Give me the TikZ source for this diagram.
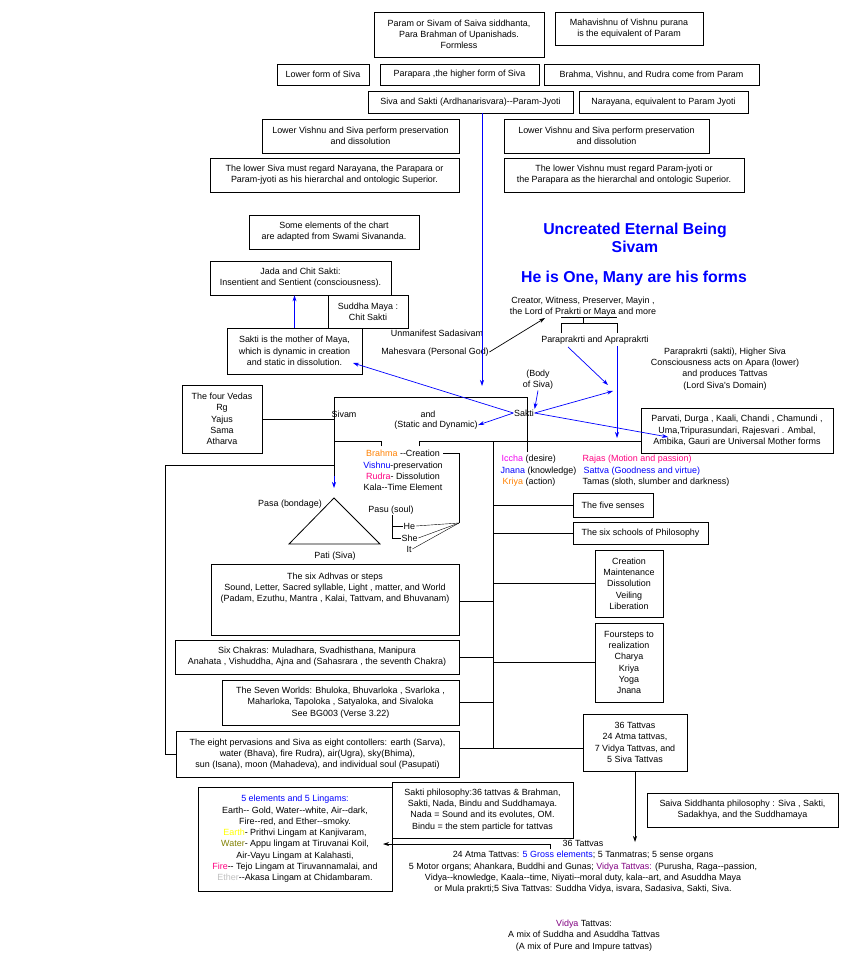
\documentclass[tikz,border=0pt]{standalone}
\usepackage{fontspec}
\setmainfont{Liberation Sans}[Ligatures=TeXOff]
\usetikzlibrary{arrows.meta,calc,positioning}
\definecolor{chartblue}{RGB}{0,0,255}
\definecolor{chartmag}{RGB}{255,0,128}
\definecolor{chartpink}{RGB}{240,0,240}
\definecolor{chartorange}{RGB}{255,128,0}
\definecolor{chartyellow}{RGB}{255,255,0}
\definecolor{chartolive}{RGB}{128,128,0}
\definecolor{chartgray}{RGB}{192,192,192}
\definecolor{chartpurple}{RGB}{128,0,128}
\newcommand{\chartfont}{\fontsize{8.95}{11.3}\selectfont}
\tikzset{
  box/.style    = {draw, line width=0.8pt, align=center, inner sep=1pt, font=\chartfont},
  sz/.style 2 args = {minimum width=#1pt, minimum height=#2pt},
  lbl/.style    = {align=center, inner sep=0.5pt, font=\chartfont},
  link/.style   = {line width=0.8pt},
  barrow/.style = {-{Stealth[length=6pt,width=4pt]}, chartblue, line width=0.7pt},
  karrow/.style = {-{Stealth[length=6pt,width=4pt]}, line width=0.7pt},
  headline/.style = {chartblue, align=center, inner sep=0pt,
                  font=\bfseries\fontsize{15.8}{18}\selectfont},
}

\begin{document}
\begin{tikzpicture}[x=1pt,y=-1pt]
  \useasboundingbox (0,0) rectangle (850,963);

  % top of the chart
  \node[box, sz={170}{45}]  (param)    at (459,34.5)  {Param or Sivam of Saiva siddhanta,\\ Para Brahman of Upanishads.\\ Formless};
  \node[box, sz={148}{33}]  (mahav)    at (629,28.5)  {Mahavishnu of Vishnu purana\\ is the equivalent of Param};
  \node[box, sz={92}{21}]   (lowform)  at (323,74.5)  {Lower form of Siva};
  \node[box, sz={159}{21}]  (parapara) at (459.5,74.5){Parapara ,the higher form of Siva};
  \node[box, sz={215}{21}]  (bvr)      at (651.5,74.5){Brahma, Vishnu, and Rudra come from Param};
  \node[box, sz={205}{22}]  (ardha)    at (470.5,102) {Siva and  Sakti (Ardhanarisvara)--Param-Jyoti};
  \node[box, sz={169}{22}]  (narayana) at (663.5,102) {Narayana, equivalent to Param Jyoti};
  \node[box, sz={197}{34}]  (presL)    at (360.5,136) {Lower Vishnu and Siva perform preservation\\ and dissolution};
  \node[box, sz={205}{34}]  (presR)    at (606.5,136) {Lower Vishnu and Siva perform preservation\\ and dissolution};
  \node[box, sz={249}{34}]  (regardL)  at (334.5,175) {The lower Siva must regard Narayana, the  Parapara or\\ Param-jyoti as his hierarchal and ontologic Superior.};
  \node[box, sz={240}{34}]  (regardR)  at (624,175)   {The lower Vishnu must regard Param-jyoti or\\ the Parapara as the hierarchal and ontologic Superior.};

  % Maya and Sakti
  \node[box, sz={170}{34}]  (source)   at (334,232)   {Some elements of the chart\\ are adapted from Swami Sivananda.};
  \node[box, sz={181}{34}]  (jada)     at (300.5,278) {Jada and Chit Sakti:\\ Insentient and Sentient (consciousness).};
  \node[box, sz={80}{33}]   (suddha)   at (368,311.5) {Suddha Maya :\\ Chit Sakti};
  \node[box, sz={135}{46}]  (mother)   at (294.5,351) {Sakti is the mother of Maya,\\ which is dynamic in creation\\ and static in dissolution.};
  \node[box, sz={80}{68}]   (vedas)    at (222,419)   {The four Vedas\\ Rg\\ Yajus\\ Sama\\ Atharva};
  \node[box, sz={192}{45}]  (parvati)  at (737,430.5) {Parvati, Durga , Kaali,  Chandi , Chamundi ,\\ Uma,Tripurasundari, Rajesvari . Ambal,\\ Ambika, Gauri are Universal Mother forms};

  \node[headline] (title)  at (635,238) {Uncreated Eternal Being\\ Sivam};
  \node[headline] (oneman) at (634,278) {He is One, Many are his forms};

  \node[lbl] (creator)  at (583,306.5) {Creator, Witness, Preserver, Mayin ,\\ the Lord of Prakrti or Maya and more};
  \node[lbl] (prakrti)  at (595,340)   {Paraprakrti and  Apraprakrti};
  \node[lbl] (domain)   at (725,369)   {Paraprakrti (sakti), Higher Siva\\ Consciousness acts on Apara (lower)\\ and produces Tattvas\\ (Lord Siva's Domain)};
  \node[lbl] (body)     at (538,380)   {(Body\\ of Siva)};
  \node[lbl] (unmanif)  at (437,333)   {Unmanifest Sadasivam};
  \node[lbl] (mahesv)   at (435,352)   {Mahesvara (Personal God)};
  \node[lbl] (sivam)    at (344,414)   {Sivam};
  \node[lbl] (andlbl)   at (428,414)   {and};
  \node[lbl] (static)   at (436,425)   {(Static and Dynamic)};
  \node[lbl] (sakti)    at (524,413)   {Sakti};

  % creation, preservation, dissolution
  \node[lbl] (trimurti) at (403,470.5) {\textcolor{chartorange}{Brahma} --Creation\\ \textcolor{chartblue}{Vishnu}-preservation\\ \textcolor{chartmag}{Rudra}- Dissolution\\ Kala--Time Element};
  \node[lbl] (pasa) at (290,504) {Pasa (bondage)};
  \node[lbl] (pati) at (335,556) {Pati (Siva)};
  \node[lbl] (pasu) at (391,510) {Pasu (soul)};
  \node[lbl, anchor=west] (he)  at (403,526) {He};
  \node[lbl, anchor=west] (she) at (401,538) {She};
  \node[lbl, anchor=west] (it)  at (406,549) {It};

  % gunas and saktis
  \node[lbl, anchor=west] (iccha)  at (501,459) {\textcolor{chartpink}{Iccha} (desire)};
  \node[lbl, anchor=west] (jnana)  at (500,471) {\textcolor{chartblue}{Jnana} (knowledge)};
  \node[lbl, anchor=west] (kriya)  at (502,482) {\textcolor{chartorange}{Kriya} (action)};
  \node[lbl, anchor=west, text=chartmag]  (rajas)  at (582,459) {Rajas (Motion and passion)};
  \node[lbl, anchor=west, text=chartblue] (sattva) at (583,471) {Sattva (Goodness and virtue)};
  \node[lbl, anchor=west] (tamas)  at (582,482) {Tamas (sloth, slumber and darkness)};

  % branches on the right
  \node[box, sz={80}{24}]   (senses)   at (613,505)   {The  five senses};
  \node[box, sz={135}{22}]  (schools)  at (640.5,533) {The  six schools of Philosophy};
  \node[box, sz={68}{67}]   (acts)     at (629,583.5) {Creation\\ Maintenance\\ Dissolution\\ Veiling\\ Liberation};
  \node[box, sz={68}{79}]   (steps)    at (629,662.5) {Foursteps to\\ realization\\ Charya\\ Kriya\\ Yoga\\ Jnana};
  \node[box, sz={104}{57}]  (tat36)    at (635,742.5) {36 Tattvas\\ 24 Atma tattvas,\\ 7  Vidya Tattvas, and\\ 5 Siva Tattvas};

  % branches on the left
  \node[box, sz={248}{71}]  (adhvas)   at (335,599.5) {};
  \node[lbl, below=8.5pt of adhvas.north] (adhvastxt) {The six Adhvas or steps\\ Sound, Letter, Sacred syllable, Light , matter, and World\\ (Padam, Ezuthu, Mantra , Kalai, Tattvam, and Bhuvanam)};
  \node[box, sz={284}{34}]  (chakras)  at (317,657)   {Six Chakras: Muladhara, Svadhisthana, Manipura\\ Anahata , Vishuddha, Ajna and (Sahasrara , the seventh Chakra)};
  \node[box, sz={237}{45}]  (worlds)   at (340.5,702.5) {The  Seven Worlds: Bhuloka, Bhuvarloka , Svarloka ,\\ Maharloka, Tapoloka , Satyaloka, and Sivaloka\\ See BG003 (Verse 3.22)};
  \node[box, sz={283}{46}]  (eight)    at (317.5,754) {The eight pervasions and  Siva as eight contollers: earth (Sarva),\\ water (Bhava), fire Rudra), air(Ugra), sky(Bhima),\\ sun (Isana), moon (Mahadeva), and individual soul (Pasupati)};

  % tattvas and philosophies
  \node[box, sz={191}{34}]  (saiva)    at (742.5,810) {Saiva  Siddhanta philosophy : Siva , Sakti,\\ Sadakhya, and the  Suddhamaya};
  \node[box, sz={181}{56}]  (saktiph)  at (482.5,810) {Sakti philosophy:36 tattvas \& Brahman,\\ Sakti, Nada,  Bindu and Suddhamaya.\\ Nada = Sound and its evolutes, OM.\\ Bindu = the stem particle for tattvas};
  \node[box, sz={194}{104}] (lingams)  at (295,839)   {\textcolor{chartblue}{5 elements and 5 Lingams:}\\ Earth-- Gold, Water--white, Air--dark,\\ Fire--red, and Ether--smoky.\\ \textcolor{chartyellow}{Earth}- Prithvi Lingam at Kanjivaram,\\ \textcolor{chartolive}{Water}- Appu lingam at Tiruvanai Koil,\\ Air-Vayu Lingam at Kalahasti,\\ \textcolor{chartmag}{Fire}-- Tejo Lingam at Tiruvannamalai, and\\ \textcolor{chartgray}{Ether}--Akasa Lingam at Chidambaram.};

  \node[lbl] (tatlbl)  at (583,843) {36 Tattvas};
  \node[lbl] (tatlist) at (583,872.5) {24 Atma Tattvas: \textcolor{chartblue}{5 Gross elements}; 5 Tanmatras; 5 sense organs\\ 5 Motor organs; Ahankara, Buddhi and Gunas; \textcolor{chartpurple}{Vidya Tattvas:} (Purusha, Raga--passion,\\ Vidya--knowledge, Kaala--time, Niyati--moral duty, kala--art, and Asuddha Maya\\ or Mula prakrti;5 Siva Tattvas: Suddha Vidya, isvara, Sadasiva,  Sakti, Siva.};
  \node[lbl] (vidya)   at (584,935.5) {\textcolor{chartpurple}{Vidya} Tattvas:\\ A mix of Suddha and Asuddha Tattvas\\ (A mix of Pure and  Impure tattvas)};

  % Sivam and Sakti frame
  \coordinate (sivTL) at (334,397);
  \coordinate (trunk) at (493,441);
  \draw[link] (334,478) -- (sivTL) -- (527,397) -- (527,452);
  \draw[link] (381,446) -- (381,441) -- (334,441);
  \draw[link] (419,446) -- (419,441) -- (parvati.west |- trunk);
  \draw[link] (vedas.east) -- (vedas.east -| sivTL);
  \coordinate (lspine) at (165,465);
  \draw[link] (334,465) -- (lspine) |- (eight.west);
  \draw[barrow] (334,476) -- (334,488);

  % soul, bondage and lord
  \draw[link] (334,498) -- (289,544) -- (380,544) -- cycle;
  \coordinate (creaend) at (443,453);
  \coordinate (fan) at (459,523);
  \draw[link] (creaend) -| (fan);
  \draw (fan) -- (he.east);
  \draw (fan) -- (she.east);
  \draw (fan) -- (it.east);
  \draw (392,515) |- (he.west);
  \draw (392,515) |- (she.west);

  % the trunk and its branches
  \coordinate (tbot) at (493,748);
  \draw[link] (trunk) -- (tbot);
  \draw[link] (trunk |- senses.west) -- (senses.west);
  \draw[link] (trunk |- schools.west) -- (schools.west);
  \draw[link] (trunk |- acts.west) -- (acts.west);
  \draw[link] (trunk |- steps.west) -- (steps.west);
  \draw[link] (adhvas.east |- 0,601) -- (trunk |- 0,601);
  \draw[link] (chakras.east) -- (chakras.east -| trunk);
  \draw[link] (worlds.east) -- (worlds.east -| trunk);
  \draw[link] (eight.east |- tbot) -- (tat36.west |- tbot);

  \coordinate (tatfoot) at (635,842);
  \draw[karrow] (tat36.south) -- (tatfoot);
  \coordinate (tathook) at (550,849);
  \coordinate (watertip) at (383,844);
  \draw[karrow] (tathook) |- (watertip);

  % blue arrows round Sakti
  \coordinate (jyotitip) at (482,386);
  \draw[barrow] (ardha.south -| jyotitip) -- (jyotitip);
  \draw[barrow] (mother.north) -- (mother.north |- jada.south);
  \coordinate (mothertip) at (353,363);
  \coordinate (parvtip) at (668,437);
  \coordinate (praktip) at (608,385);
  \coordinate (apartip) at (613,391);
  \draw[barrow] (sakti.west) -- (mothertip);
  \draw[barrow] (sakti.east) -- (parvtip);
  \draw[barrow] (sakti.west) -- (static.east);
  \draw[barrow] (sakti.east) -- (apartip);
  \draw[barrow] (body.south) -- (sakti.north east);
  \draw[barrow] (568,347) -- (praktip);
  \draw[link] (561,333) -- (561,323) -- (617,323) -- (617,333);
  \draw[link] (583,323) -- (583,317);
  \draw[link] (561,317) -- (617,317);
  \draw[barrow] (617,346) -- (617,438);
  \coordinate (creatortip) at (545,318);
  \draw[karrow] (mahesv.east) -- (creatortip);
\end{tikzpicture}
\end{document}
